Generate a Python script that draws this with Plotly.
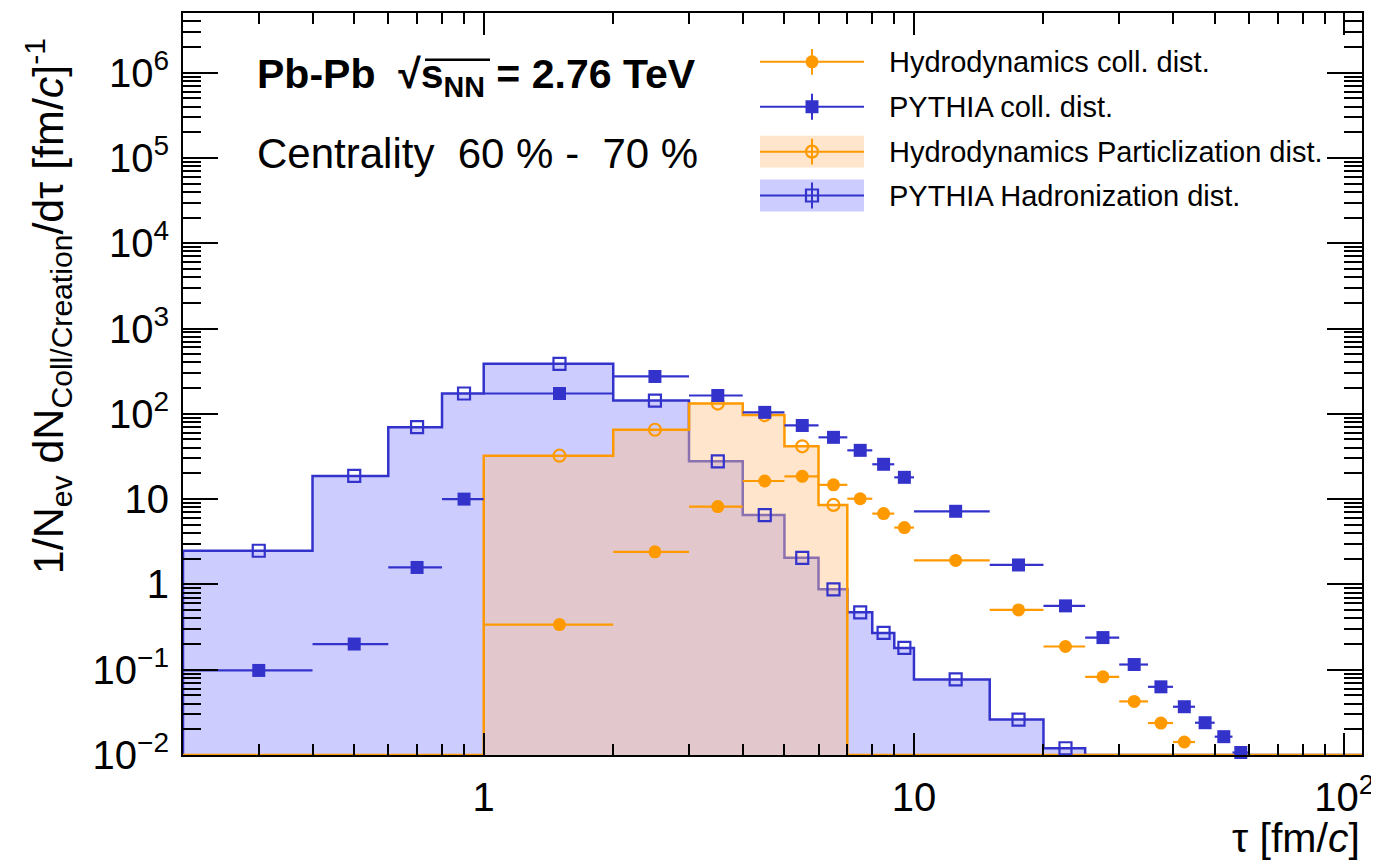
import plotly.graph_objects as go
import math

# ---------------- data ----------------
bin_edges = [0.2, 0.4, 0.6, 0.8, 1, 2, 3, 4, 5, 6, 7, 8, 9, 10, 15, 20, 25, 30, 35, 40,
             45, 50, 55, 60, 65, 70, 75, 80, 85, 90, 95, 100, 105, 110]

pythia_coll = [0.098, 0.20, 1.58, 10.0, 173, 274, 164, 104, 73, 53, 37.3, 25.6, 18.0,
               7.2, 1.69, 0.56, 0.238, 0.115, 0.063, 0.0368, 0.0239, 0.0164, 0.0107] + [None] * 10
hydro_coll = [None] * 4 + [0.338, 2.41, 8.17, 16.3, 18.5, 14.7, 10.1, 6.76, 4.64,
                           1.91, 0.502, 0.187, 0.0826, 0.0425, 0.0237, 0.0142] + [None] * 13
hydro_part = [0] * 4 + [32.3, 65, 132, 96.6, 41.6, 8.55] + [0] * 23
pythia_had = [2.48, 18.7, 69.8, 173, 385, 143, 27.7, 6.5, 2.05, 0.875, 0.47, 0.27, 0.18,
              0.077, 0.026, 0.012] + [0] * 17

legend_labels = ["Hydrodynamics coll. dist.", "PYTHIA coll. dist.",
                 "Hydrodynamics Particlization dist.", "PYTHIA Hadronization dist."]

y_tickvals = [1e-2, 1e-1, 1, 10, 1e2, 1e3, 1e4, 1e5, 1e6]
y_ticktext = ["10<sup>\u22122</sup>", "10<sup>\u22121</sup>", "1", "10", "10<sup>2</sup>",
              "10<sup>3</sup>", "10<sup>4</sup>", "10<sup>5</sup>", "10<sup>6</sup>"]
x_tickvals = [1, 10, 100]
x_ticktext = ["1", "10", "10<sup>2</sup>"]

X_RANGE = [0.2, 110]
Y_RANGE = [1e-2, 5e6]

# ---------------- styles ----------------
BLUE = "rgb(51,51,204)"
ORANGE = "rgb(255,153,0)"
BLUE_FILL = "rgb(204,204,255)"
ORANGE_FILL = "rgba(255,195,136,0.43)"
FONT = "Liberation Sans, Arial, Helvetica, sans-serif"

OFF = 8  # page body margin of the browser
W, H = 1379 - OFF, 860 - OFF
ML, MT = 183 - OFF, 11 - OFF
PW, PH = 1179, 744
MR, MB = W - ML - PW, H - MT - PH


def px2x(px):
    return (px - OFF - ML) / PW


def py2y(py):
    return (MT + PH - (py - OFF)) / PH


centers = [(a + b) / 2 for a, b in zip(bin_edges[:-1], bin_edges[1:])]
YMIN = Y_RANGE[0]

fig = go.Figure()


def add_hist(values, line_color, fill_color):
    xs, ys = [], []
    for i, v in enumerate(values):
        vv = max(v, YMIN)
        xs += [bin_edges[i], bin_edges[i + 1]]
        ys += [vv, vv]
    fx = [bin_edges[0]] + xs + [bin_edges[-1]]
    fy = [YMIN] + ys + [YMIN]
    fig.add_trace(go.Scatter(x=fx, y=fy, mode="lines", fill="toself", fillcolor=fill_color,
                             line=dict(width=0), hoverinfo="skip", showlegend=False))
    fig.add_trace(go.Scatter(x=fx, y=fy, mode="lines", line=dict(color=line_color, width=2.5),
                             hoverinfo="skip", showlegend=False))


def add_hist_markers(values, color, symbol):
    xs = [c for c, v in zip(centers, values) if v and v > 0]
    ys = [v for v in values if v and v > 0]
    fig.add_trace(go.Scatter(x=xs, y=ys, mode="markers", cliponaxis=False,
                             marker=dict(symbol=symbol, size=12, color=color,
                                         line=dict(color=color, width=2.2)),
                             showlegend=False))


def add_points(values, color, symbol, size):
    xs, ys, ep, em = [], [], [], []
    for i, v in enumerate(values):
        if v is None:
            continue
        c = centers[i]
        xs.append(c)
        ys.append(v)
        ep.append(bin_edges[i + 1] - c)
        em.append(c - bin_edges[i])
    fig.add_trace(go.Scatter(x=xs, y=ys, mode="markers", cliponaxis=False,
                             marker=dict(symbol=symbol, size=size, color=color,
                                         line=dict(width=0)),
                             error_x=dict(type="data", symmetric=False, array=ep, arrayminus=em,
                                          color=color, thickness=2.2, width=0),
                             showlegend=False))


add_hist(pythia_had, BLUE, BLUE_FILL)
add_hist(hydro_part, ORANGE, ORANGE_FILL)
add_hist_markers(pythia_had, BLUE, "square-open")
add_hist_markers(hydro_part, ORANGE, "circle-open")
add_points(hydro_coll, ORANGE, "circle", 13)
add_points(pythia_coll, BLUE, "square", 13)

# ---------------- custom ROOT-like legend ----------------
leg_y = [60, 105, 150, 194]
leg_x0, leg_x1, leg_xm, leg_tx = 760, 864, 812, 887
leg_colors = [ORANGE, BLUE, ORANGE, BLUE]
leg_symbols = ["circle", "square", "circle-open", "square-open"]
leg_fills = [None, None, "rgb(255,229,204)", BLUE_FILL]
shapes = []
annotations = []
for yy, col, sym, fc, lab in zip(leg_y, leg_colors, leg_symbols, leg_fills, legend_labels):
    if fc:
        shapes.append(dict(type="rect", xref="paper", yref="paper",
                           x0=px2x(leg_x0), x1=px2x(leg_x1), y0=py2y(yy + 16), y1=py2y(yy - 16),
                           fillcolor=fc, line=dict(width=0), layer="below"))
    shapes.append(dict(type="line", xref="paper", yref="paper",
                       x0=px2x(leg_x0), x1=px2x(leg_x1), y0=py2y(yy), y1=py2y(yy),
                       line=dict(color=col, width=2), layer="below"))
    shapes.append(dict(type="line", xref="paper", yref="paper",
                       x0=px2x(leg_xm), x1=px2x(leg_xm), y0=py2y(yy - 13), y1=py2y(yy + 13),
                       line=dict(color=col, width=2), layer="below"))
    is_open = "open" in sym
    fig.add_trace(go.Scatter(x=[px2x(leg_xm)], y=[py2y(yy)], xaxis="x2", yaxis="y2",
                             mode="markers", cliponaxis=False,
                             marker=dict(symbol=sym, size=12 if is_open else 13, color=col,
                                         line=dict(color=col, width=2.2 if is_open else 0)),
                             showlegend=False, hoverinfo="skip"))
    annotations.append(dict(xref="paper", yref="paper", x=px2x(leg_tx), y=py2y(yy),
                            xanchor="left", yanchor="middle", showarrow=False, text=lab,
                            font=dict(family=FONT, size=29, color="black")))

# overline of the square root
shapes.append(dict(type="line", xref="paper", yref="paper",
                   x0=px2x(425), x1=px2x(490), y0=py2y(58), y1=py2y(58),
                   line=dict(color="black", width=2.5), layer="above"))

# ---------------- texts ----------------
annotations.append(dict(xref="paper", yref="paper", x=px2x(255), y=py2y(75), xanchor="left",
                        yanchor="middle", showarrow=False,
                        text="<b>Pb-Pb\u00a0\u00a0\u221as<sub>NN</sub> = 2.76 TeV</b>",
                        font=dict(family=FONT, size=41, color="black")))
annotations.append(dict(xref="paper", yref="paper", x=px2x(255), y=py2y(152), xanchor="left",
                        yanchor="middle", showarrow=False,
                        text="Centrality\u00a0\u00a060 % -\u00a0\u00a070 %",
                        font=dict(family=FONT, size=42, color="black")))
annotations.append(dict(xref="paper", yref="paper", x=px2x(48), y=py2y(305), xanchor="center",
                        yanchor="middle", showarrow=False, textangle=-90,
                        text="1/N<sub>ev</sub> dN<sub>Coll/Creation</sub>/d\u03c4 [fm/<i>c</i>]<sup>-1</sup>",
                        font=dict(family=FONT, size=43, color="black")))
annotations.append(dict(xref="paper", yref="paper", x=1.0, y=py2y(838), xanchor="right",
                        yanchor="middle", showarrow=False,
                        text="\u03c4 [fm/<i>c</i>]",
                        font=dict(family=FONT, size=41, color="black")))

axis_common = dict(showgrid=False, zeroline=False, showline=True, linecolor="black",
                   linewidth=2, mirror="ticks", ticks="inside", tickcolor="black",
                   tickwidth=2, tickfont=dict(family=FONT, size=40, color="black"))

fig.update_layout(
    width=W, height=H,
    margin=dict(l=ML, r=MR, t=MT, b=MB, pad=0),
    plot_bgcolor="white", paper_bgcolor="white",
    showlegend=False,
    xaxis=dict(type="log", range=[math.log10(X_RANGE[0]), math.log10(X_RANGE[1])],
               tickmode="array", tickvals=x_tickvals, ticktext=x_ticktext, ticklen=22,
               ticklabelstandoff=6,
               minor=dict(ticks="inside", ticklen=11, tickwidth=2, tickcolor="black",
                          dtick="D1", showgrid=False),
               **axis_common),
    yaxis=dict(type="log", range=[math.log10(Y_RANGE[0]), math.log10(Y_RANGE[1])],
               tickmode="array", tickvals=y_tickvals, ticktext=y_ticktext, ticklen=35,
               ticklabelstandoff=4,
               minor=dict(ticks="inside", ticklen=18, tickwidth=2, tickcolor="black",
                          dtick="D1", showgrid=False),
               **axis_common),
    xaxis2=dict(overlaying="x", range=[0, 1], visible=False, fixedrange=True),
    yaxis2=dict(overlaying="y", range=[0, 1], visible=False, fixedrange=True),
    shapes=shapes,
    annotations=annotations,
)

fig.write_html("out.html")
